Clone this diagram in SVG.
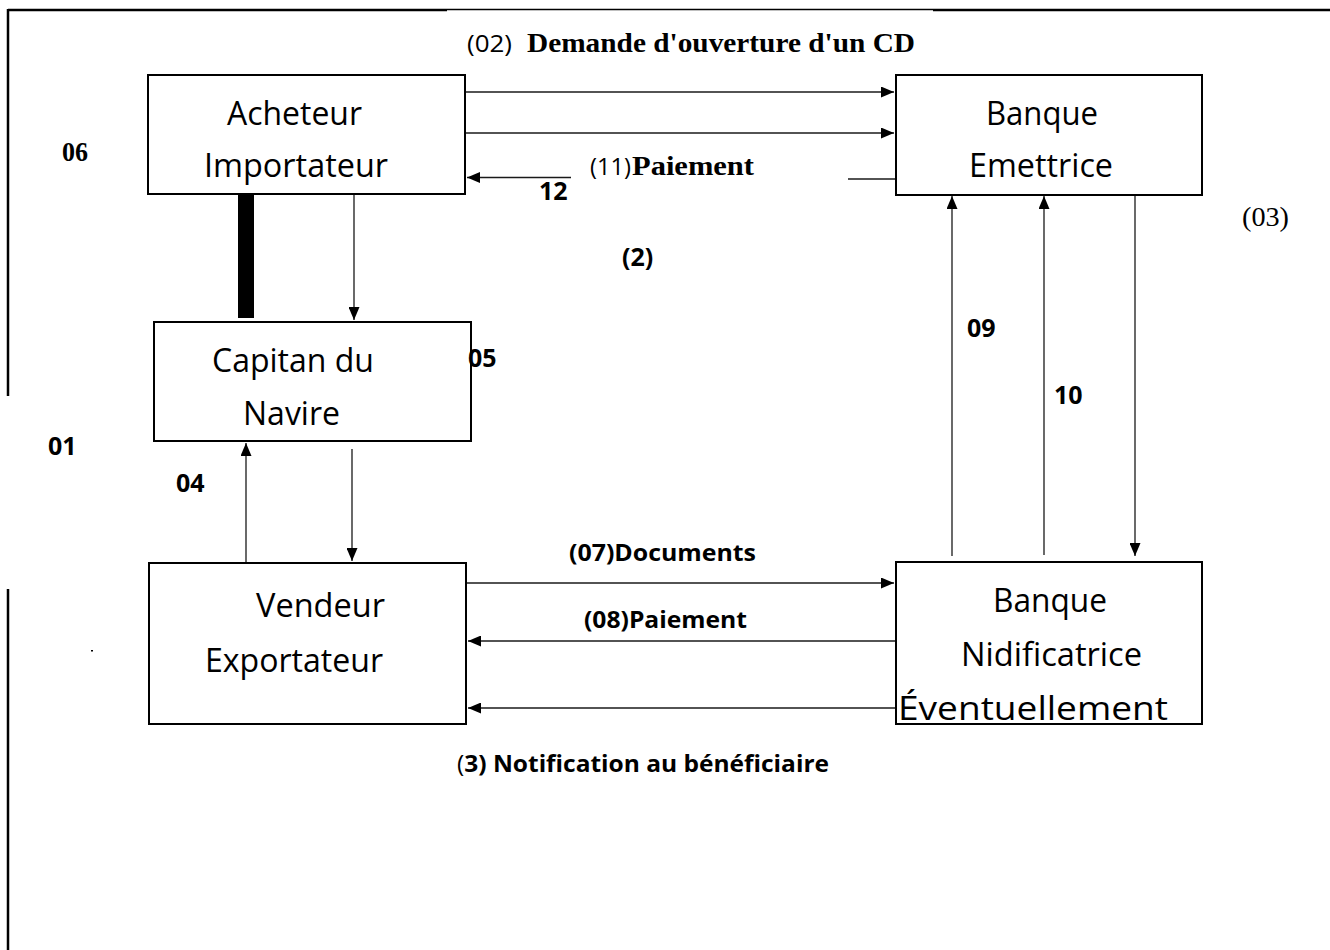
<svg xmlns="http://www.w3.org/2000/svg" width="1330" height="950" viewBox="0 0 1330 950">
  <style>
    .box { fill: #ffffff; stroke: #000000; stroke-width: 2; }
    .node-text { font-family: "Open Sans", "Liberation Sans", sans-serif; font-size: 33px; fill: #000000; }
    .conn { stroke: #1a1a1a; stroke-width: 1.3; fill: none; }
    .lbl { font-family: "Open Sans", "Liberation Sans", sans-serif; font-weight: bold; font-size: 24px; fill: #000000; }
    .num { font-family: "Open Sans", "Liberation Sans", sans-serif; font-weight: bold; font-size: 25px; fill: #000000; }
    .lbl-reg { font-family: "Open Sans", "Liberation Sans", sans-serif; font-size: 23px; fill: #000000; }
    .serif-b { font-family: "Liberation Serif", "Times New Roman", serif; font-weight: bold; font-size: 28px; fill: #000000; }
    .serif-r { font-family: "Liberation Serif", "Times New Roman", serif; font-size: 28px; fill: #000000; }
    .frame { stroke: #000000; stroke-width: 2.5; fill: none; }
  </style>
  <defs>
    <marker id="arrow" markerWidth="13" markerHeight="11" refX="13" refY="5.5" orient="auto" markerUnits="userSpaceOnUse">
      <path d="M0,0 L13,5.5 L0,11 Z" fill="#000000"/>
    </marker>
  </defs>

  <rect x="0" y="0" width="1330" height="950" fill="#ffffff"/>

  <!-- page frame fragments -->
  <g id="frame">
    <line class="frame" x1="8" y1="10" x2="447" y2="10"/>
    <line x1="447" y1="9.5" x2="933" y2="9.5" stroke="#000000" stroke-width="1.5"/>
    <line class="frame" x1="933" y1="10" x2="1330" y2="10"/>
    <line class="frame" x1="8" y1="9" x2="8" y2="396"/>
    <line class="frame" x1="8" y1="589" x2="8" y2="950"/>
    <rect x="91" y="650" width="2" height="1.5" fill="#000000"/>
  </g>

  <!-- connectors -->
  <g id="connectors">
    <line class="conn" x1="466" y1="92" x2="894" y2="92" marker-end="url(#arrow)"/>
    <line class="conn" x1="466" y1="133" x2="894" y2="133" marker-end="url(#arrow)"/>
    <line class="conn" x1="571" y1="177.5" x2="467" y2="177.5" marker-end="url(#arrow)"/>
    <line class="conn" x1="848" y1="179" x2="896" y2="179"/>
    <rect x="238" y="195" width="16" height="123" fill="#000000"/>
    <line class="conn" x1="354" y1="195" x2="354" y2="320" marker-end="url(#arrow)"/>
    <line class="conn" x1="246" y1="563" x2="246" y2="443" marker-end="url(#arrow)"/>
    <line class="conn" x1="352" y1="449" x2="352" y2="561" marker-end="url(#arrow)"/>
    <line class="conn" x1="467" y1="583" x2="894" y2="583" marker-end="url(#arrow)"/>
    <line class="conn" x1="895" y1="641" x2="468" y2="641" marker-end="url(#arrow)"/>
    <line class="conn" x1="895" y1="708" x2="468" y2="708" marker-end="url(#arrow)"/>
    <line class="conn" x1="952" y1="556" x2="952" y2="196" marker-end="url(#arrow)"/>
    <line class="conn" x1="1044" y1="555" x2="1044" y2="196" marker-end="url(#arrow)"/>
    <line class="conn" x1="1135" y1="196" x2="1135" y2="556" marker-end="url(#arrow)"/>
  </g>

  <!-- nodes -->
  <g id="acheteur">
    <rect class="box" x="148" y="75" width="317" height="119"/>
    <text class="node-text" x="227" y="125" textLength="135" lengthAdjust="spacingAndGlyphs">Acheteur</text>
    <text class="node-text" x="204" y="177" textLength="184" lengthAdjust="spacingAndGlyphs">Importateur</text>
  </g>
  <g id="banque-emettrice">
    <rect class="box" x="896" y="75" width="306" height="120"/>
    <text class="node-text" x="986" y="125" textLength="112" lengthAdjust="spacingAndGlyphs">Banque</text>
    <text class="node-text" x="969" y="177" textLength="144" lengthAdjust="spacingAndGlyphs">Emettrice</text>
  </g>
  <g id="capitan">
    <rect class="box" x="154" y="322" width="317" height="119"/>
    <text class="node-text" x="212" y="372" textLength="162" lengthAdjust="spacingAndGlyphs">Capitan du</text>
    <text class="node-text" x="243" y="425" textLength="97" lengthAdjust="spacingAndGlyphs">Navire</text>
  </g>
  <g id="vendeur">
    <rect class="box" x="149" y="563" width="317" height="161"/>
    <text class="node-text" x="256" y="617" textLength="129" lengthAdjust="spacingAndGlyphs">Vendeur</text>
    <text class="node-text" x="205" y="672" textLength="178" lengthAdjust="spacingAndGlyphs">Exportateur</text>
  </g>
  <g id="banque-notificatrice">
    <rect class="box" x="896" y="562" width="306" height="162"/>
    <text class="node-text" x="993" y="612" textLength="114" lengthAdjust="spacingAndGlyphs">Banque</text>
    <text class="node-text" x="961" y="666" textLength="181" lengthAdjust="spacingAndGlyphs">Nidificatrice</text>
    <text class="node-text" x="898" y="720" textLength="270" lengthAdjust="spacingAndGlyphs">Éventuellement</text>
  </g>

  <!-- labels -->
  <g id="labels">
    <text class="lbl-reg" x="467" y="52" textLength="45" lengthAdjust="spacingAndGlyphs">(02)</text>
    <text class="serif-b" x="527" y="52" textLength="388" lengthAdjust="spacingAndGlyphs">Demande d'ouverture d'un CD</text>
    <text class="serif-b" x="62" y="161" font-size="26" textLength="26" lengthAdjust="spacingAndGlyphs">06</text>
    <text class="lbl-reg" x="590" y="175" textLength="41" lengthAdjust="spacingAndGlyphs">(11)</text>
    <text class="serif-b" x="632" y="175" textLength="122" lengthAdjust="spacingAndGlyphs">Paiement</text>
    <text class="num" x="539" y="200">12</text>
    <text class="num" x="622" y="266">(2)</text>
    <text class="serif-r" x="1242" y="226" textLength="47" lengthAdjust="spacingAndGlyphs">(03)</text>
    <text class="num" x="468" y="367">05</text>
    <text class="num" x="48" y="455">01</text>
    <text class="num" x="176" y="492">04</text>
    <text class="num" x="967" y="337">09</text>
    <text class="num" x="1054" y="404">10</text>
    <text class="lbl" x="569" y="561" textLength="187" lengthAdjust="spacingAndGlyphs">(07)Documents</text>
    <text class="lbl" x="584" y="628" textLength="163" lengthAdjust="spacingAndGlyphs">(08)Paiement</text>
    <text class="lbl" x="457" y="772" textLength="372" lengthAdjust="spacingAndGlyphs"><tspan font-weight="normal">(</tspan>3) Notification au bénéficiaire</text>
  </g>
</svg>
